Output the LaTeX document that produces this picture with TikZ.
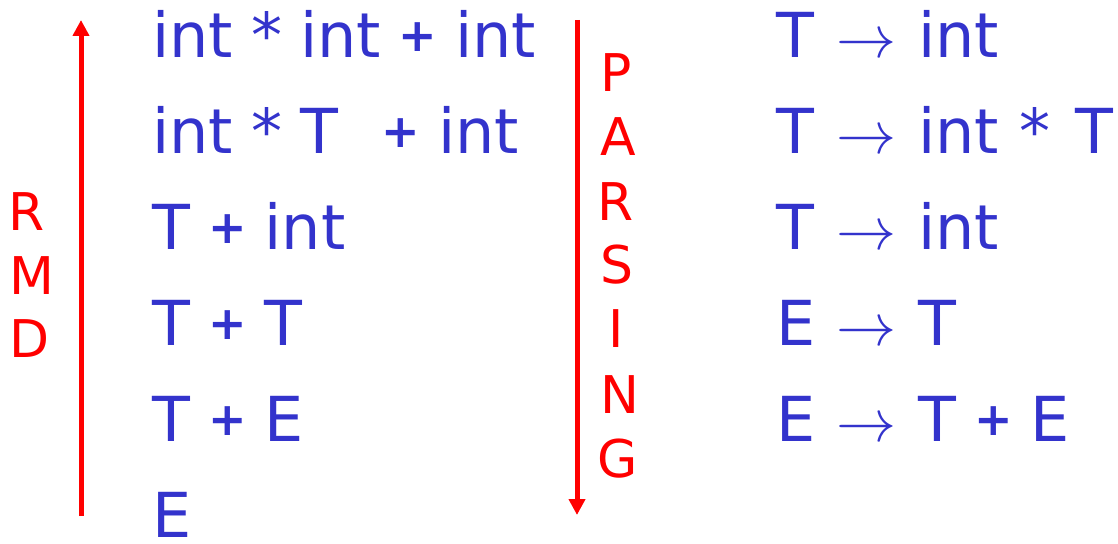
\documentclass[tikz,border=0pt]{standalone}
\usepackage{fontspec}
\usepackage{graphicx}
\setmainfont{DejaVu Sans}
\usetikzlibrary{arrows.meta}
\definecolor{termblue}{RGB}{51,51,204}
\definecolor{labelred}{RGB}{255,0,0}
% text font for the grammar, with tighter word spaces
\newcommand{\exprfont}{\fontsize{62}{62}\selectfont\spaceskip 18pt\relax}
% a slimmer plus sign and a large thin arrow for the grammar text
\newcommand{\pl}{\raisebox{6pt}{\fontsize{46}{46}\selectfont\bfseries +}}
\newcommand{\yields}{\scalebox{6}{$\rightarrow$}}

\begin{document}
\begin{tikzpicture}[x=1pt,y=-1pt,
  expr/.style={anchor=base west, inner sep=0pt, text=termblue, font=\exprfont},
  arr/.style={anchor=base, inner sep=0pt, text=termblue},
  letter/.style={anchor=base, inner sep=0pt, text=labelred, font=\fontsize{52}{52}\selectfont},
  flow/.style={draw=labelred, line width=5pt, -{Triangle[length=16pt,width=16pt]}},
]
\useasboundingbox (0,0) rectangle (1118,543);

% derivation sentential forms
\node[expr] (s1) at (152,58)  {int * int \pl{} int};
\node[expr] (s2) at (152,153) {int * T\hspace{44pt}\pl{} int};
\node[expr] (s3) at (152,249) {T \pl{} int};
\node[expr] (s4) at (152,345) {T \pl{} T};
\node[expr] (s5) at (152,441) {T \pl{} E};
\node[expr, text depth=0pt] (s6) at (152,537) {E};

% RMD arrow pointing up
\coordinate (rmdbot) at (81,516);
\coordinate (rmdtop) at (81,20);
\draw[flow] (rmdbot) -- (rmdtop);
\node[letter] (r1) at (27,230) {R};
\node[letter] (r2) at (32,294) {M};
\node[letter] (r3) at (30,357) {D};

% PARSING arrow pointing down
\coordinate (partop) at (577,20);
\coordinate (parbot) at (577,515);
\draw[flow] (partop) -- (parbot);
\node[letter] (p1) at (616,92)  {P};
\node[letter] (p2) at (618,155) {A};
\node[letter] (p3) at (616,220) {R};
\node[letter] (p4) at (617,283) {S};
\node[letter] (p5) at (616,347) {I};
\node[letter] (p6) at (620,413) {N};
\node[letter] (p7) at (618,477) {G};

% productions used by the reductions
\foreach \i/\y/\l/\r in {1/58/T/int, 2/153/T/int\hspace{20pt}*\hspace{25pt}T, 3/249/T/int, 4/345/E/T, 5/441/E/T \pl{} E}{
  \node[expr] (l\i) at (776,\y) {\l};
  \node[arr]  (a\i) at (866,\y) {\yields};
  \node[expr] (q\i) at (918,\y) {\r};
}
\end{tikzpicture}
\end{document}
